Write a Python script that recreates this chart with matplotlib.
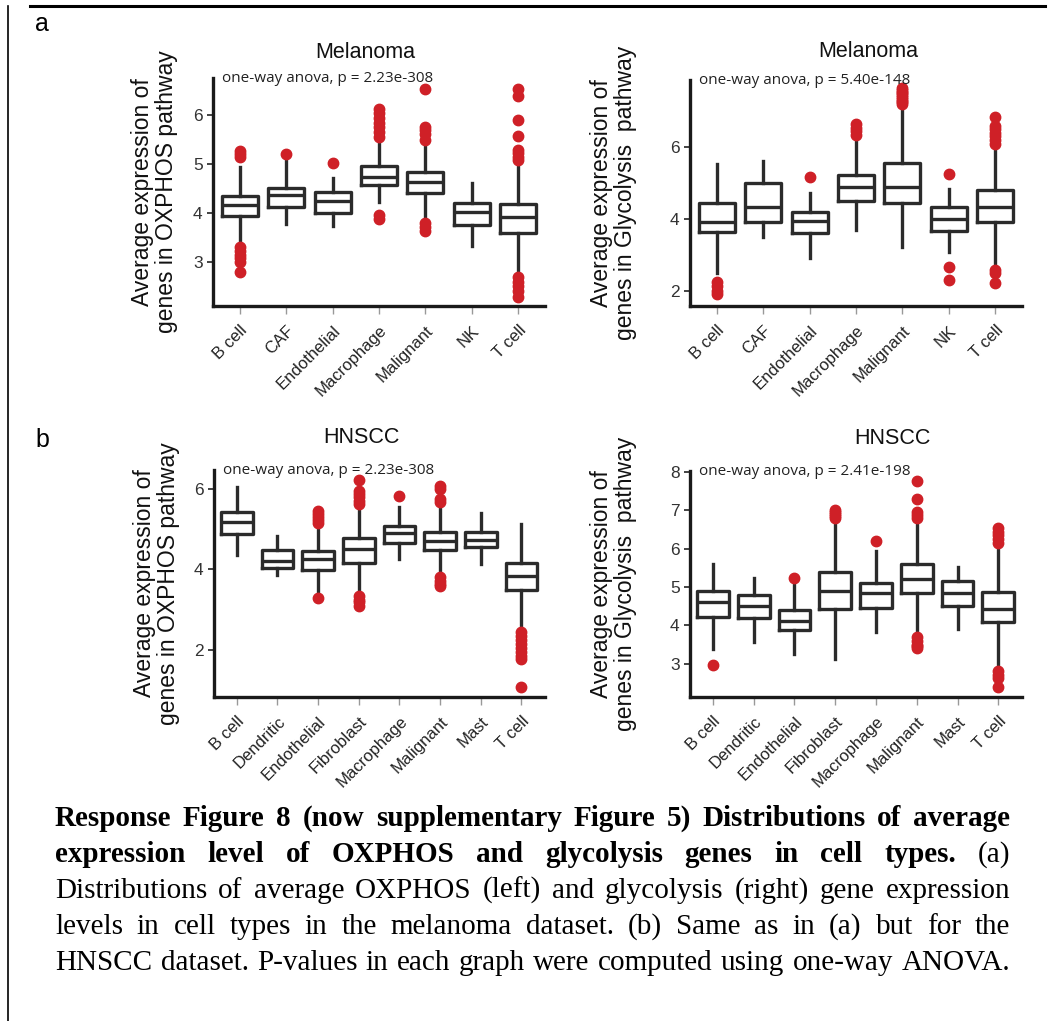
import matplotlib
matplotlib.use('Agg')
import matplotlib.pyplot as plt
from matplotlib.lines import Line2D

# Zelni tipi
mel_types = ['B cell', 'CAF', 'Endothelial', 'Macrophage', 'Malignant', 'NK', 'T cell']
hn_types = ['B cell', 'Dendritic', 'Endothelial', 'Fibroblast', 'Macrophage', 'Malignant', 'Mast', 'T cell']

# box stats: (whislo, q1, med, q3, whishi)
mel_oxphos_box = [
    (3.35, 3.93, 4.16, 4.35, 4.95),
    (3.77, 4.13, 4.37, 4.52, 5.10),
    (3.74, 4.01, 4.25, 4.42, 4.72),
    (4.23, 4.57, 4.73, 4.97, 5.42),
    (3.87, 4.40, 4.63, 4.83, 5.42),
    (3.33, 3.76, 4.03, 4.20, 4.62),
    (2.73, 3.59, 3.91, 4.18, 5.01),
]
mel_oxphos_out = [
    [5.27, 5.20, 5.15, 3.30, 3.22, 3.15, 3.08, 3.00, 2.80],
    [5.20],
    [5.02],
    [6.12, 6.05, 5.95, 5.85, 5.75, 5.65, 5.55, 3.95, 3.88],
    [6.53, 5.76, 5.70, 5.62, 5.50, 3.80, 3.72, 3.63],
    [],
    [6.54, 6.39, 5.90, 5.57, 5.29, 5.22, 5.15, 5.08, 2.70, 2.60, 2.50, 2.40, 2.29],
]

mel_glyco_box = [
    (2.50, 3.64, 3.93, 4.44, 5.53),
    (3.52, 3.93, 4.35, 5.02, 5.63),
    (2.92, 3.61, 3.95, 4.19, 4.74),
    (3.70, 4.50, 4.89, 5.22, 6.20),
    (3.24, 4.44, 4.89, 5.57, 7.13),
    (3.10, 3.68, 4.00, 4.33, 4.83),
    (2.68, 3.93, 4.33, 4.80, 6.04),
]
mel_glyco_out = [
    [2.25, 2.15, 2.00, 1.92],
    [],
    [5.18],
    [6.65, 6.55, 6.45, 6.35],
    [7.65, 7.60, 7.55, 7.50, 7.45, 7.40, 7.35, 7.30, 7.25, 7.20],
    [5.26, 2.67, 2.31],
    [6.85, 6.60, 6.50, 6.40, 6.30, 6.20, 6.10, 2.60, 2.50, 2.22],
]

hn_oxphos_box = [
    (4.36, 4.88, 5.18, 5.42, 6.04),
    (3.86, 4.03, 4.22, 4.48, 4.84),
    (3.42, 3.98, 4.25, 4.45, 5.13),
    (3.40, 4.17, 4.51, 4.77, 5.57),
    (4.27, 4.66, 4.91, 5.08, 5.54),
    (3.88, 4.49, 4.71, 4.94, 5.57),
    (4.13, 4.55, 4.73, 4.92, 5.39),
    (2.53, 3.49, 3.83, 4.16, 5.14),
]
hn_oxphos_out = [
    [],
    [],
    [5.45, 5.38, 5.30, 5.22, 5.15, 3.29],
    [6.22, 5.95, 5.88, 5.80, 5.70, 5.62, 3.33, 3.25, 3.18, 3.10],
    [5.82],
    [6.08, 6.00, 5.75, 5.68, 3.80, 3.72, 3.65, 3.58],
    [],
    [2.45, 2.35, 2.25, 2.15, 2.05, 1.95, 1.85, 1.78, 1.08],
]

hn_glyco_box = [
    (3.39, 4.22, 4.61, 4.91, 5.59),
    (3.57, 4.19, 4.50, 4.80, 5.24),
    (3.24, 3.87, 4.12, 4.41, 5.13),
    (3.11, 4.44, 4.91, 5.39, 6.76),
    (3.83, 4.46, 4.84, 5.10, 5.93),
    (3.78, 4.84, 5.22, 5.61, 6.72),
    (3.91, 4.50, 4.84, 5.16, 5.52),
    (2.87, 4.09, 4.42, 4.87, 6.09),
]
hn_glyco_out = [
    [2.96],
    [],
    [5.23],
    [7.00, 6.95, 6.90, 6.85, 6.80],
    [6.20],
    [7.78, 7.31, 6.95, 6.88, 6.80, 3.70, 3.60, 3.50, 3.45, 3.40],
    [],
    [6.55, 6.45, 6.35, 6.25, 6.15, 2.80, 2.70, 2.62, 2.39],
]

pvals = ['2.23e-308', '5.40e-148', '2.23e-308', '2.41e-198']

caption = [
    [("Response Figure 8 (now supplementary Figure 5) Distributions of average", True)],
    [("expression level of OXPHOS and glycolysis genes in cell types.", True), ("(a)", False)],
    [("Distributions of average OXPHOS (left) and glycolysis (right) gene expression", False)],
    [("levels in cell types in the melanoma dataset. (b) Same as in (a) but for the", False)],
    [("HNSCC dataset. P-values in each graph were computed using one-way ANOVA.", False)],
]

RED = '#cf2027'
DARK = '#2b2b2b'
W, H = 1062, 1021


def stats(boxes, outs):
    res = []
    for (lo, q1, med, q3, hi), fl in zip(boxes, outs):
        res.append(dict(whislo=lo, q1=q1, med=med, q3=q3, whishi=hi, fliers=fl))
    return res


def panel(rect, boxes, outs, labels, ylim, yticks, title, tpos, ylab, ylx, pval):
    ax = fig.add_axes(rect)
    pos = list(range(1, len(labels) + 1))
    lp = dict(color=DARK, lw=2.4)
    ax.bxp(stats(boxes, outs), positions=pos, widths=0.78, showcaps=False,
           boxprops=lp, whiskerprops=lp, medianprops=lp,
           flierprops=dict(marker='o', markerfacecolor=RED, markeredgecolor=RED, markersize=7.5))
    ax.set_xlim(0.42 if len(labels) == 7 else 0.44, len(labels) + 0.58)
    ax.set_ylim(*ylim)
    ax.set_yticks(yticks)
    ax.set_xticks(pos)
    ax.set_xticklabels(labels, rotation=45, ha='right', rotation_mode='anchor', fontsize=12, color='#222')
    for s in ['top', 'right']:
        ax.spines[s].set_visible(False)
    for s in ['left', 'bottom']:
        ax.spines[s].set_linewidth(2.4)
        ax.spines[s].set_color('#1a1a1a')
    ax.tick_params(axis='x', length=6, width=1, color='#999999', pad=6)
    ax.tick_params(axis='y', length=4, width=1.2, color='#222', labelsize=12.5, labelcolor='#333')
    ax.text(tpos[0], tpos[1], title, transform=ax.transAxes, ha='center', va='center', fontsize=15.5, color='#111')
    ax.text(ylx, 0.5, ylab, transform=ax.transAxes, rotation=90, ha='center', va='center',
            fontsize=16.5, linespacing=1.05, multialignment='center', color='#111')
    ax.text(0.028, 1.0, 'one-way anova, p = ' + pval, transform=ax.transAxes, ha='left', va='center',
            fontsize=11, family='Open Sans', color='#222')
    return ax


fig = plt.figure(figsize=(W / 100, H / 100), dpi=100)
plt.rcParams['font.family'] = ['Liberation Sans', 'DejaVu Sans']

lab_ox = 'Average expression of\ngenes in OXPHOS pathway'
lab_gl = 'Average expression of\ngenes in Glycolysis  pathway'

panel([213 / W, 1 - 306 / H, 332 / W, 228 / H], mel_oxphos_box, mel_oxphos_out, mel_types,
      (2.10, 6.76), [3, 4, 5, 6], 'Melanoma', (0.458, 1.114), lab_ox, -0.175, pvals[0])
panel([690 / W, 1 - 306 / H, 332 / W, 226 / H], mel_glyco_box, mel_glyco_out, mel_types,
      (1.59, 7.87), [2, 4, 6], 'Melanoma', (0.536, 1.124), lab_gl, -0.23, pvals[1])
panel([214 / W, 1 - 697 / H, 331 / W, 227 / H], hn_oxphos_box, hn_oxphos_out, hn_types,
      (0.83, 6.47), [2, 4, 6], 'HNSCC', (0.444, 1.141), lab_ox, -0.175, pvals[2])
panel([690 / W, 1 - 697 / H, 332 / W, 226 / H], hn_glyco_box, hn_glyco_out, hn_types,
      (2.13, 8.03), [3, 4, 5, 6, 7, 8], 'HNSCC', (0.611, 1.146), lab_gl, -0.23, pvals[3])

fig.text(42 / W, 1 - 24 / H, 'a', fontsize=18, ha='center', va='center')
fig.text(42 / W, 1 - 440 / H, 'b', fontsize=18, ha='center', va='center')

# okvir
fig.add_artist(Line2D([30 / W, 1045 / W], [1 - 6 / H, 1 - 6 / H], transform=fig.transFigure, color='black', lw=2.2))
fig.add_artist(Line2D([8 / W, 8 / W], [1 - 6 / H, 0], transform=fig.transFigure, color='black', lw=1.2))

# Podnapis, poravnan na obe strani
r = fig.canvas.get_renderer()
x0, x1 = 55 / W, 1010 / W
for i, line in enumerate(caption):
    y = 1 - (826 + 36 * i) / H
    items = []
    for txt, bold in line:
        for word in txt.split(' '):
            t = fig.text(0, y, word, fontsize=21, family='Liberation Serif',
                         fontweight='bold' if bold else 'normal', va='baseline', color='black')
            items.append((t, t.get_window_extent(r).width / W))
    gap = (x1 - x0 - sum(w for _, w in items)) / (len(items) - 1)
    x = x0
    for t, w in items:
        t.set_x(x)
        x += w + gap

fig.savefig('out.png', dpi=100)
